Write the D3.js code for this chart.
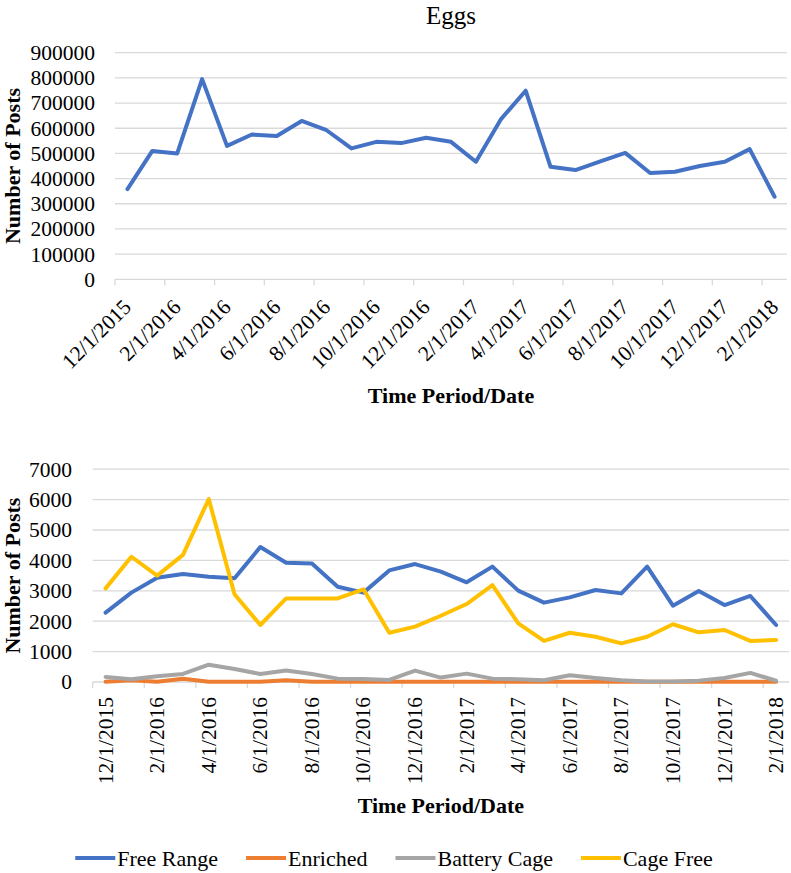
<!DOCTYPE html>
<html>
<head>
<meta charset="utf-8">
<script src="https://cdn.jsdelivr.net/npm/d3@7"></script>
<style>
  html, body { margin: 0; padding: 0; background: #fff; }
  svg { display: block; }
  text { font-family: "Liberation Serif", "Times New Roman", serif; fill: #000; }
</style>
</head>
<body>
<svg id="chart" width="791" height="873"></svg>
<script>
// ---------------- DATA ----------------
const dates = [
  "12/1/2015","1/1/2016","2/1/2016","3/1/2016","4/1/2016","5/1/2016","6/1/2016",
  "7/1/2016","8/1/2016","9/1/2016","10/1/2016","11/1/2016","12/1/2016","1/1/2017",
  "2/1/2017","3/1/2017","4/1/2017","5/1/2017","6/1/2017","7/1/2017","8/1/2017",
  "9/1/2017","10/1/2017","11/1/2017","12/1/2017","1/1/2018","2/1/2018"
];

// Top chart: total egg posts
const eggsTotal = [
  358000, 510000, 500000, 795000, 530000, 575000, 569000, 629000, 592000, 520000,
  546000, 541000, 562000, 546000, 467000, 635000, 749000, 447000, 434000, 468000,
  502000, 422000, 427000, 450000, 467000, 517000, 328000
];

// Bottom chart series
const freeRange = [
  2280, 2940, 3430, 3550, 3460, 3410, 4440, 3925, 3900, 3135,
  2940, 3670, 3880, 3630, 3280, 3795, 3005, 2610, 2785, 3025,
  2915, 3795, 2510, 2995, 2530, 2830, 1875
];
const enriched = [
  10, 60, 5, 110, 5, 5, 5, 60, 10, 5,
  5, 5, 5, 5, 5, 5, 5, 5, 5, 5,
  5, 5, 5, 5, 5, 5, 5
];
const batteryCage = [
  165, 90, 190, 265, 570, 430, 265, 375, 265, 110,
  100, 66, 375, 145, 275, 110, 90, 55, 220, 130,
  55, 20, 20, 45, 130, 300, 40
];
const cageFree = [
  3080, 4120, 3500, 4180, 6020, 2885, 1875, 2750, 2750, 2750,
  3050, 1620, 1820, 2180, 2565, 3190, 1930, 1350, 1620, 1490,
  1270, 1490, 1900, 1635, 1710, 1350, 1380
];

const topTicks = [0, 100000, 200000, 300000, 400000, 500000, 600000, 700000, 800000, 900000];
const bottomTicks = [0, 1000, 2000, 3000, 4000, 5000, 6000, 7000];

const seriesNames = ["Free Range", "Enriched", "Battery Cage", "Cage Free"];
const seriesColors = ["#4472C4", "#ED7D31", "#A5A5A5", "#FFC000"];
const bottomSeries = [freeRange, enriched, batteryCage, cageFree];

// ---------------- DRAW ----------------
const svg = d3.select("#chart");
const GRID = "#D9D9D9";
const FONT = "'Liberation Serif', 'Times New Roman', serif";
const labelIdx = d3.range(0, dates.length, 2);

function drawPanel(cfg) {
  const g = svg.append("g");
  const x = d3.scaleBand().domain(dates).range([cfg.left, cfg.right]).padding(0);
  const y = d3.scaleLinear().domain(cfg.domain).range([cfg.bottom, cfg.top]);
  const cx = d => x(d) + x.bandwidth() / 2;

  // gridlines
  g.selectAll("line.grid").data(cfg.ticks).join("line")
    .attr("class", "grid")
    .attr("x1", cfg.left).attr("x2", cfg.right)
    .attr("y1", d => y(d)).attr("y2", d => y(d))
    .attr("stroke", GRID).attr("stroke-width", 1.3);

  // y labels
  const yAxis = d3.axisLeft(y).tickValues(cfg.ticks).tickFormat(d3.format("d")).tickSize(0).tickPadding(0);
  const ya = g.append("g").attr("transform", `translate(${cfg.yLabelX},0)`).call(yAxis);
  ya.select(".domain").remove();
  ya.attr("font-family", null).attr("font-size", null);
  ya.selectAll("text").attr("font-size", 21.5).attr("fill", "#000");

  // x-axis tick marks at category boundaries
  g.selectAll("line.xt").data(labelIdx).join("line")
    .attr("class", "xt")
    .attr("x1", i => x(dates[i])).attr("x2", i => x(dates[i]))
    .attr("y1", cfg.bottom).attr("y2", cfg.bottom + 6)
    .attr("stroke", GRID).attr("stroke-width", 1.3);

  // x labels
  g.selectAll("text.xl").data(labelIdx).join("text")
    .attr("class", "xl")
    .attr("font-size", 21.5)
    .attr("text-anchor", "end")
    .attr("transform", i => {
      const px = cx(dates[i]) + cfg.lblDx, py = cfg.bottom + cfg.lblDy;
      return `translate(${px},${py}) rotate(${cfg.rot})`;
    })
    .text(i => dates[i]);

  // lines
  const line = d3.line().x((d, i) => cx(dates[i])).y(d => y(d));
  g.selectAll("path.series").data(cfg.series).join("path")
    .attr("class", "series")
    .attr("d", d => line(d.values))
    .attr("fill", "none")
    .attr("stroke", d => d.color)
    .attr("stroke-width", 4)
    .attr("stroke-linejoin", "round")
    .attr("stroke-linecap", "round");

  // y title
  g.append("text")
    .attr("transform", `translate(${cfg.yTitleX},${(cfg.top + cfg.bottom) / 2}) rotate(-90)`)
    .attr("text-anchor", "middle").attr("dy", "0.35em")
    .attr("font-size", 22).attr("font-weight", "bold")
    .text("Number of Posts");

  // x title
  g.append("text")
    .attr("x", (cfg.left + cfg.right) / 2).attr("y", cfg.xTitleY)
    .attr("text-anchor", "middle").attr("dy", "0.35em")
    .attr("font-size", 22).attr("font-weight", "bold")
    .text("Time Period/Date");

  return { x, y };
}

// Title
svg.append("text")
  .attr("x", 451).attr("y", 15).attr("dy", "0.35em")
  .attr("text-anchor", "middle").attr("font-size", 25)
  .text("Eggs");

drawPanel({
  left: 115, right: 787, top: 52.7, bottom: 279.3,
  domain: [0, 900000], ticks: topTicks, yLabelX: 95,
  rot: -45, lblDx: 5, lblDy: 29,
  series: [{ values: eggsTotal, color: seriesColors[0] }],
  yTitleX: 12, xTitleY: 395
});

drawPanel({
  left: 92.7, right: 789, top: 469.2, bottom: 682,
  domain: [0, 7000], ticks: bottomTicks, yLabelX: 72,
  rot: -90, lblDx: 7, lblDy: 15,
  series: bottomSeries.map((v, i) => ({ values: v, color: seriesColors[i] })),
  yTitleX: 12, xTitleY: 805
});

// Legend
const legend = svg.append("g");
const items = legend.selectAll("g.item").data(seriesNames).join("g").attr("class", "item");
items.append("line")
  .attr("x1", 0).attr("x2", 40).attr("y1", 0).attr("y2", 0)
  .attr("stroke", (d, i) => seriesColors[i]).attr("stroke-width", 4);
items.append("text")
  .attr("x", 42).attr("dy", "0.35em").attr("font-size", 22)
  .text(d => d);

svg.selectAll("text").style("font-family", FONT);

let offs = 0;
const pos = [];
items.each(function () {
  const w = this.getBBox().width;
  pos.push(offs);
  offs += w + 28;
});
const total = offs - 28;
const startX = 394 - total / 2;
items.attr("transform", (d, i) => `translate(${startX + pos[i]},858)`);
</script>
</body>
</html>
